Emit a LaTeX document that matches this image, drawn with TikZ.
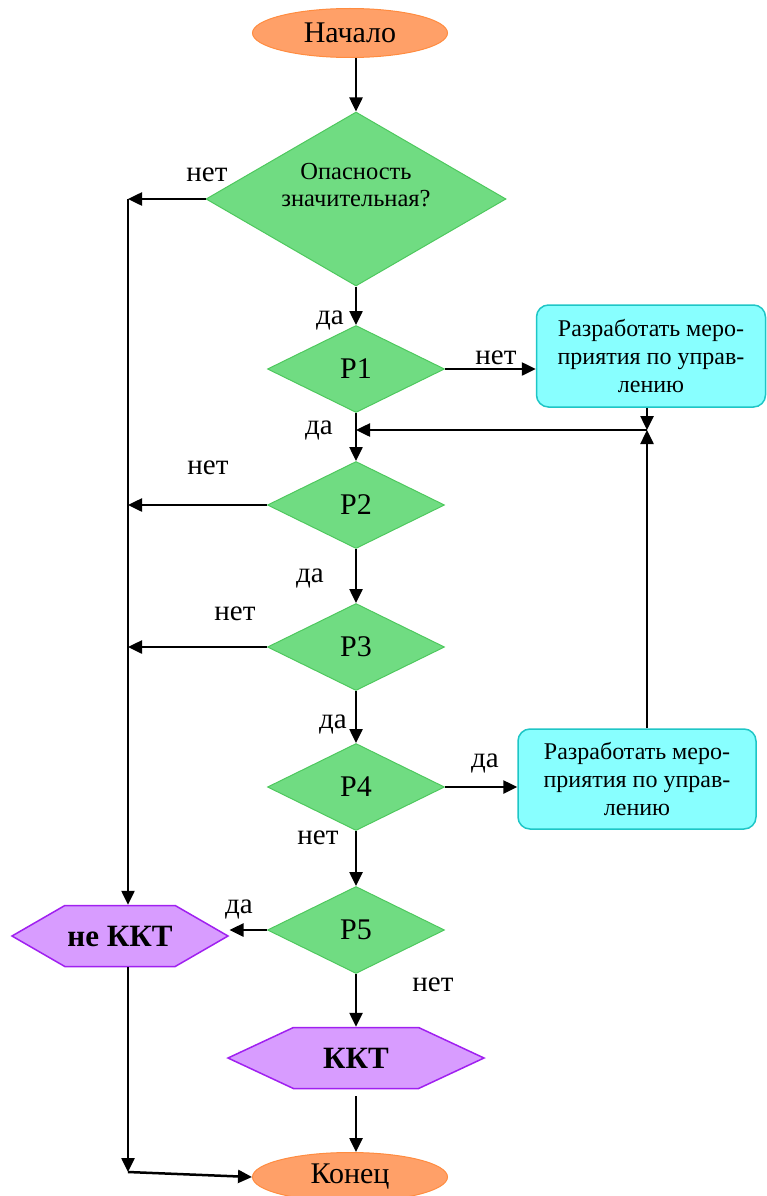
\documentclass[tikz,border=0pt]{standalone}
\usepackage{fontspec}
\setmainfont{Liberation Serif}
\usepackage{tikz}
\usetikzlibrary{shapes.geometric,shapes.symbols,arrows.meta}
\definecolor{termfill}{HTML}{FFA068}
\definecolor{termline}{HTML}{FF8C40}
\definecolor{condfill}{HTML}{70DC82}
\definecolor{condline}{HTML}{4EC85E}
\definecolor{actfill}{HTML}{88FFFF}
\definecolor{actline}{HTML}{1EC6C6}
\definecolor{resfill}{HTML}{D89CFF}
\definecolor{resline}{HTML}{A020F0}
\begin{document}
\begin{tikzpicture}[x=1pt,y=-1pt,
term/.style={ellipse,draw=termline,fill=termfill,line width=1pt,minimum width=195pt,minimum height=49pt,inner sep=0pt,font=\fontsize{30}{34}\selectfont},
cond/.style={diamond,draw=condline,fill=condfill,line width=1pt,inner sep=0pt,align=center,minimum width=177pt,minimum height=87pt,font=\fontsize{30}{34}\selectfont},
act/.style n args={2}{rectangle,rounded corners=12pt,draw=actline,fill=actfill,line width=1.5pt,minimum width=#1,minimum height=#2,inner sep=0pt,align=center,font=\fontsize{24}{28}\selectfont},
res/.style n args={2}{signal,signal to=east and west,signal pointer angle=#2,draw=resline,fill=resfill,line width=1.5pt,minimum width=#1,minimum height=61pt,inner sep=0pt,font=\bfseries\fontsize{31}{35}\selectfont},
arr/.style={-{Triangle[length=14pt,width=13pt]},line width=2.5pt},
lbl/.style={inner sep=0pt,font=\fontsize{29}{32}\selectfont}]
\useasboundingbox (0,0) rectangle (766,1196);
% blocks
\node[term] (nach) at (350,33) {Начало};
\node[cond,shape aspect=1.72,minimum width=300pt,minimum height=174pt,text depth=28pt,font=\fontsize{24.5}{27}\selectfont] (d0) at (356,199) {Опасность\\значительная?};
\foreach \n/\y in {1/369,2/505,3/647,4/787,5/930} {
   \node[cond] (p\n) at (356,\y) {P\n};
}
\node[act={229pt}{102pt}] (box1) at (651,356) {Разработать меро-\\приятия по управ-\\лению};
\node[act={238pt}{100pt}] (box2) at (637,779) {Разработать меро-\\приятия по управ-\\лению};
\node[res={216pt}{60}] (nekkt) at (120,936) {не ККТ};
\node[res={256pt}{50}] (kkt) at (356,1058) {ККТ};
\node[term] (kon) at (350,1177) {Конец};
\coordinate (l0) at (128,199);
\coordinate (l1) at (128,1172);
\coordinate (j) at (647,430);
% main line
\draw[arr] (nach.south -| d0) -- (d0.north);
\draw[arr] (d0.south) -- (p1.north);
\foreach \a/\b in {1/2,2/3,3/4,4/5} {
   \draw[arr] (p\a.south) -- (p\b.north);
}
\draw[arr] (p5.south) -- (kkt.north);
\draw[arr,shorten <=7pt] (kkt.south) -- (kkt.south |- kon.north);
% left side
\draw[arr] (d0.west) -- (l0);
\draw[arr] (l0) -- (l0 |- nekkt.north);
\foreach \n in {2,3} {
   \draw[arr] (p\n.west) -- (p\n.west -| l0);
}
\draw[arr] (p5.west) -- (p5.west -| nekkt.east);
\draw[arr] (l0 |- nekkt.south) -- (l1);
\draw[arr] (l1) -- (kon.west);
% right side
\draw[arr] (p1.east) -- (p1.east -| box1.west);
\draw[arr] (p4.east) -- (p4.east -| box2.west);
\draw[arr] (j |- box1.south) -- (j);
\draw[arr] (j |- box2.north) -- (j);
\draw[arr] (j) -- (j -| p1);
% labels
\node[lbl] (n0) at (207,175) {нет};
\node[lbl] (y0) at (330,320) {да};
\node[lbl] (n1) at (496,358) {нет};
\node[lbl] (y1) at (319,430) {да};
\node[lbl] (n2) at (208,468) {нет};
\node[lbl] (y2) at (310,578) {да};
\node[lbl] (n3) at (235,614) {нет};
\node[lbl] (y3) at (333,724) {да};
\node[lbl] (y4) at (485,763) {да};
\node[lbl] (n4) at (318,838) {нет};
\node[lbl] (y5) at (239,909) {да};
\node[lbl] (n5) at (433,985) {нет};
\end{tikzpicture}
\end{document}
